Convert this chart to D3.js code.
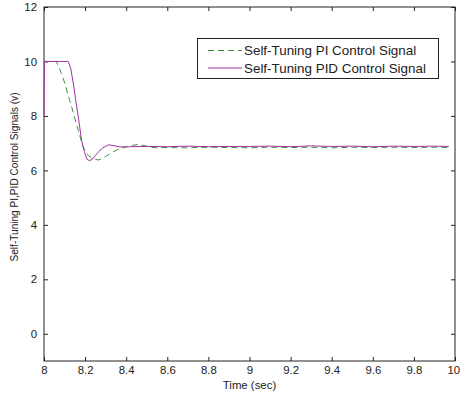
<!DOCTYPE html>
<html>
<head>
<meta charset="utf-8">
<script src="https://cdn.jsdelivr.net/npm/d3@7/dist/d3.min.js"></script>
<style>
  html, body { margin: 0; padding: 0; background: #fff; }
  svg { display: block; font-family: Arial, "Liberation Sans", sans-serif; }
</style>
</head>
<body>
<svg id="chart" width="460" height="400"></svg>
<script>
// Self-tuning PI control signal (time in sec, signal in volts)
const piTime  = [8.000, 8.060, 8.070, 8.085, 8.102, 8.118, 8.135, 8.150, 8.167, 8.180, 8.191, 8.205, 8.216, 8.240, 8.264, 8.285, 8.305, 8.330, 8.354, 8.380, 8.402, 8.430, 8.460, 8.490, 8.516, 8.550, 8.600, 8.700, 8.800, 8.900, 9.000, 9.100, 9.200, 9.300, 9.400, 9.500, 9.600, 9.700, 9.800, 9.900, 9.970];
const piValue = [10.00, 10.00, 9.85, 9.55, 9.18, 8.75, 8.32, 7.90, 7.46, 7.12, 6.85, 6.68, 6.54, 6.43, 6.38, 6.44, 6.54, 6.65, 6.75, 6.82, 6.87, 6.92, 6.95, 6.91, 6.85, 6.83, 6.84, 6.83, 6.85, 6.84, 6.83, 6.85, 6.84, 6.85, 6.83, 6.85, 6.84, 6.85, 6.84, 6.85, 6.84];

// Self-tuning PID control signal
const pidTime  = [8.000, 8.002, 8.118, 8.130, 8.143, 8.155, 8.167, 8.183, 8.196, 8.208, 8.220, 8.235, 8.250, 8.264, 8.285, 8.313, 8.340, 8.370, 8.420, 8.500, 8.600, 8.700, 8.800, 8.900, 9.000, 9.100, 9.200, 9.300, 9.400, 9.500, 9.600, 9.700, 9.800, 9.900, 9.970];
const pidValue = [8.00, 10.00, 10.00, 9.75, 9.18, 8.55, 7.95, 7.10, 6.70, 6.42, 6.36, 6.40, 6.55, 6.67, 6.82, 6.94, 6.91, 6.86, 6.87, 6.88, 6.87, 6.89, 6.87, 6.88, 6.88, 6.89, 6.87, 6.90, 6.88, 6.89, 6.87, 6.89, 6.88, 6.89, 6.88];

const xTicks = [8, 8.2, 8.4, 8.6, 8.8, 9, 9.2, 9.4, 9.6, 9.8, 10];
const yTicks = [0, 2, 4, 6, 8, 10, 12];
const seriesNames = ["Self-Tuning PI Control Signal", "Self-Tuning PID Control Signal"];

const svg = d3.select("#chart");
const plotLeft = 44, plotRight = 455, plotTop = 7, plotBottom = 361;

const x = d3.scaleLinear().domain([8, 10]).range([plotLeft, plotRight]);
const y = d3.scaleLinear().domain([-1, 12]).range([plotBottom, plotTop]);

const axisColor = "#222";
const tickLen = 4;

// plot frame
svg.append("rect")
  .attr("x", plotLeft).attr("y", plotTop)
  .attr("width", plotRight - plotLeft).attr("height", plotBottom - plotTop)
  .attr("fill", "none").attr("stroke", axisColor).attr("stroke-width", 1);

function styleAxis(g) {
  g.select(".domain").remove();
  g.selectAll(".tick line").attr("stroke", axisColor);
  g.selectAll(".tick text").attr("fill", "#222").attr("font-size", "11.4px")
    .attr("font-family", "Arial, 'Liberation Sans', sans-serif");
}

// bottom axis with inward ticks; the last label is nudged to stay inside the page
svg.append("g")
  .attr("transform", `translate(0,${plotBottom})`)
  .call(d3.axisBottom(x).tickValues(xTicks).tickSizeInner(-tickLen).tickSizeOuter(0).tickPadding(5).tickFormat(d3.format("")))
  .call(styleAxis)
  .call(g => g.selectAll(".tick text").filter(d => d === 10).attr("dx", "-1.8"));

// top axis ticks (no labels)
svg.append("g")
  .attr("transform", `translate(0,${plotTop})`)
  .call(d3.axisTop(x).tickValues(xTicks).tickSizeInner(-tickLen).tickSizeOuter(0).tickFormat(""))
  .call(styleAxis);

// left axis with inward ticks
svg.append("g")
  .attr("transform", `translate(${plotLeft},0)`)
  .call(d3.axisLeft(y).tickValues(yTicks).tickSizeInner(-tickLen).tickSizeOuter(0).tickPadding(7).tickFormat(d3.format("")))
  .call(styleAxis);

// right axis ticks (no labels)
svg.append("g")
  .attr("transform", `translate(${plotRight},0)`)
  .call(d3.axisRight(y).tickValues(yTicks).tickSizeInner(-tickLen).tickSizeOuter(0).tickFormat(""))
  .call(styleAxis);

// axis titles
svg.append("text")
  .attr("x", (plotLeft + plotRight) / 2).attr("y", 389)
  .attr("text-anchor", "middle").attr("font-size", "11.4px").attr("fill", "#222")
  .text("Time (sec)");

svg.append("text")
  .attr("transform", `translate(18,177) rotate(-90)`)
  .attr("text-anchor", "middle").attr("font-size", "10.1px").attr("fill", "#222")
  .text("Self-Tuning PI,PID Control Signals (v)");

const line = d3.line().x(d => x(d[0])).y(d => y(d[1]));

const plot = svg.append("g");

const piColor = "#3f9140";
const pidColor = "#a032a0";

plot.append("path")
  .datum(d3.zip(piTime, piValue))
  .attr("d", line)
  .attr("fill", "none").attr("stroke", piColor).attr("stroke-width", 1)
  .attr("stroke-dasharray", "6,4");

plot.append("path")
  .datum(d3.zip(pidTime, pidValue))
  .attr("d", line)
  .attr("fill", "none").attr("stroke", pidColor).attr("stroke-width", 1);

// legend
const lg = svg.append("g");
lg.append("rect")
  .attr("x", 197.5).attr("y", 38.5).attr("width", 241).attr("height", 40)
  .attr("fill", "#fff").attr("stroke", axisColor).attr("stroke-width", 1);

const rows = [
  { name: seriesNames[0], color: piColor, dash: "6,4", yy: 50.5 },
  { name: seriesNames[1], color: pidColor, dash: null, yy: 68 }
];
rows.forEach(r => {
  lg.append("line")
    .attr("x1", 208).attr("x2", 242).attr("y1", r.yy).attr("y2", r.yy)
    .attr("stroke", r.color).attr("stroke-width", 1)
    .attr("stroke-dasharray", r.dash);
  lg.append("text")
    .attr("x", 244).attr("y", r.yy).attr("dy", "0.36em")
    .attr("font-size", "13.4px").attr("fill", "#222")
    .text(r.name);
});
</script>
</body>
</html>
